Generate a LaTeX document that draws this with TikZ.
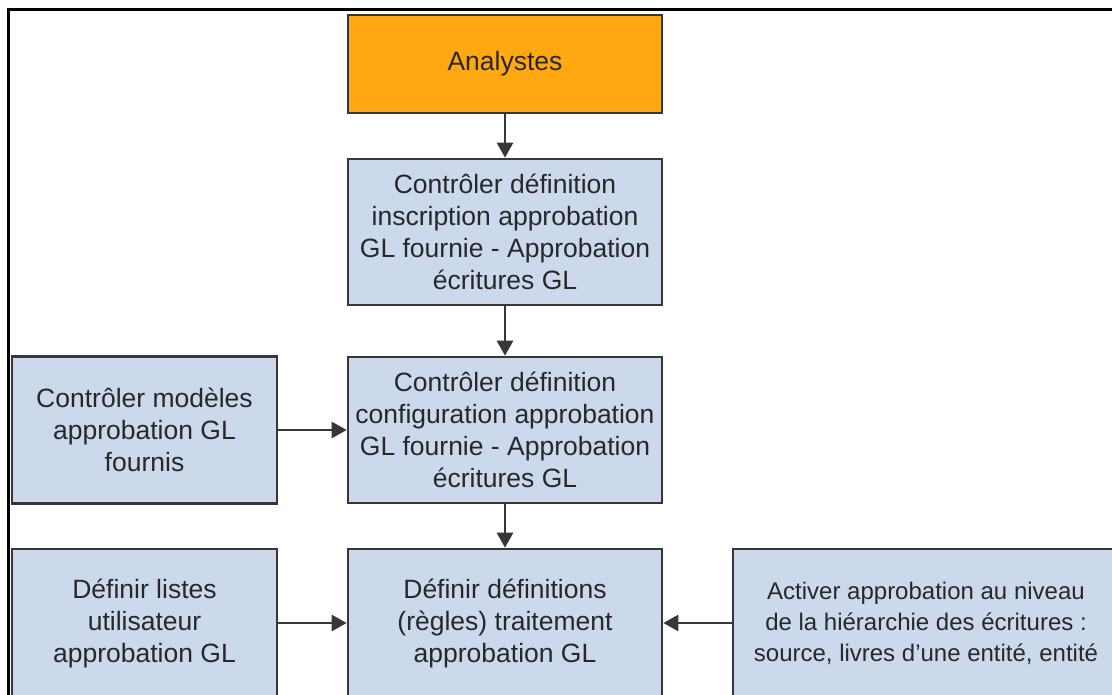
\documentclass[tikz,border=0pt]{standalone}
\usepackage{fontspec}
\setmainfont{Liberation Sans}
\usetikzlibrary{arrows.meta}
\definecolor{orangefill}{RGB}{255,168,18}
\definecolor{bluefill}{RGB}{204,217,236}
\definecolor{edgegray}{RGB}{55,55,55}
\definecolor{textgray}{RGB}{40,40,40}
\begin{document}
\begin{tikzpicture}[x=1pt,y=-1pt,
  box/.style={draw=edgegray,line width=2.6pt,fill=bluefill,text=textgray,align=center,
    inner sep=0pt,minimum width=314pt,minimum height=146pt,
    font=\fontsize{26.5}{32}\selectfont},
  startbox/.style={box,fill=orangefill,minimum height=98pt},
  conn/.style={draw=edgegray,line width=2.6pt,-{Triangle[length=15pt,width=16pt]}}]
\useasboundingbox (0,0) rectangle (1112,695);
\clip (0,0) rectangle (1112,695);
\fill[white] (0,0) rectangle (1112,695);
\draw[black,line width=3pt] (8,700) -- (8,10) -- (1120,10);

\node[startbox] (A) at (505,64) {Analystes};
\node[box] (B) at (505,232) {Contrôler définition\\inscription approbation\\GL fournie - Approbation\\écritures GL};
\node[box] (C) at (505,430) {Contrôler définition\\configuration approbation\\GL fournie - Approbation\\écritures GL};
\node[box,minimum width=265pt,minimum height=147pt] (L1) at (144.5,430) {Contrôler modèles\\approbation GL\\fournis};
\node[box,minimum height=148pt] (D) at (505,623) {Définir définitions\\(règles) traitement\\approbation GL};
\node[box,minimum width=265pt,minimum height=148pt] (L2) at (144.5,623) {Définir listes\\utilisateur\\approbation GL};
\node[box,minimum width=386pt,minimum height=148pt,font=\fontsize{24}{31}\selectfont] (R) at (926,623) {Activer approbation au niveau\\de la hiérarchie des écritures :\\source, livres d’une entité, entité};

\draw[conn] (A) -- (B);
\draw[conn] (B) -- (C);
\draw[conn] (C) -- (D);
\draw[conn] (L1) -- (C);
\draw[conn] (L2) -- (D);
\draw[conn] (R) -- (D);
\end{tikzpicture}
\end{document}
